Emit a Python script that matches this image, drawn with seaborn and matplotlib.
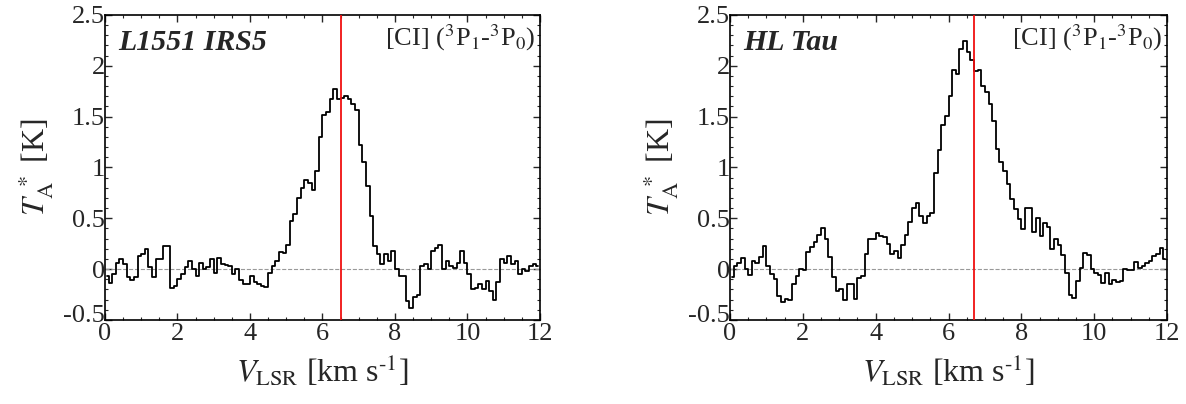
import numpy as np
import pandas as pd
import matplotlib
matplotlib.use('Agg')
import matplotlib.pyplot as plt
import seaborn as sns
from matplotlib.ticker import MultipleLocator
from matplotlib.transforms import ScaledTranslation

# ── Data ───────────────────────────────────────────────────
# channel centres, 0.1 km/s channels from 0 to 12 km/s
velocity = np.arange(120) * 0.1 + 0.05

l1551_tmb = [
    -0.07, -0.14, -0.05, 0.06, 0.10, 0.05, -0.08, -0.11, -0.08, 0.13,
    0.15, 0.20, 0.02, -0.08, 0.10, 0.10, 0.23, 0.23, -0.19, -0.17,
    -0.10, -0.05, 0.02, 0.08, 0.00, -0.07, 0.06, 0.00, 0.02, 0.10,
    -0.04, 0.11, 0.05, 0.04, 0.03, -0.05, 0.00, -0.11, -0.15, -0.15,
    -0.07, -0.13, -0.15, -0.17, -0.18, -0.04, 0.03, 0.08, 0.17, 0.16,
    0.24, 0.47, 0.54, 0.70, 0.80, 0.88, 0.85, 0.78, 0.97, 1.30,
    1.52, 1.55, 1.67, 1.77, 1.67, 1.68, 1.70, 1.67, 1.62, 1.57,
    1.22, 1.05, 0.82, 0.52, 0.23, 0.15, 0.05, 0.15, 0.08, 0.18,
    0.00, -0.07, -0.07, -0.31, -0.38, -0.27, -0.25, 0.03, 0.05, 0.00,
    0.18, 0.21, 0.24, 0.00, 0.08, 0.03, 0.01, 0.06, 0.18, 0.06,
    -0.05, -0.20, -0.19, -0.15, -0.20, -0.12, -0.22, -0.30, -0.13, 0.10,
    0.06, 0.13, 0.05, 0.08, -0.05, 0.00, -0.02, 0.03, 0.05, 0.03,
]

hltau_tmb = [
    -0.08, 0.03, 0.06, 0.11, 0.00, -0.06, 0.08, 0.06, 0.12, 0.23,
    0.03, -0.05, -0.10, -0.26, -0.32, -0.29, -0.30, -0.15, -0.07, 0.00,
    -0.01, 0.17, 0.22, 0.27, 0.34, 0.40, 0.30, 0.12, -0.08, -0.22,
    -0.20, -0.30, -0.15, -0.15, -0.29, -0.09, -0.07, 0.15, 0.30, 0.30,
    0.36, 0.33, 0.32, 0.25, 0.15, 0.18, 0.11, 0.24, 0.34, 0.46,
    0.60, 0.65, 0.52, 0.45, 0.52, 0.55, 0.95, 1.17, 1.42, 1.51,
    1.70, 1.96, 1.92, 2.17, 2.24, 2.14, 2.06, 1.95, 1.96, 1.80,
    1.74, 1.62, 1.46, 1.18, 1.05, 0.97, 0.84, 0.69, 0.59, 0.49,
    0.39, 0.60, 0.60, 0.37, 0.50, 0.33, 0.45, 0.41, 0.20, 0.30,
    0.24, 0.14, -0.04, -0.25, -0.28, -0.12, 0.01, 0.16, 0.14, 0.00,
    -0.04, -0.06, -0.14, -0.04, -0.15, -0.11, -0.13, -0.12, 0.00, -0.01,
    -0.01, 0.07, 0.01, 0.03, 0.06, 0.08, 0.13, 0.15, 0.21, 0.10,
]

source_names = ['L1551 IRS5', 'HL Tau']
systemic_vel = [6.5, 6.7]
line_label = r'[CI] ($^{3}$P$_{1}$-$^{3}$P$_{0}$)'
x_ticks = [0, 2, 4, 6, 8, 10, 12]
y_ticks = [-0.5, 0, 0.5, 1, 1.5, 2, 2.5]
y_tick_labels = ['-0.5', '0', '0.5', '1', '1.5', '2', '2.5']

# ── Style ──────────────────────────────────────────────────
sns.set_theme(style='ticks')
plt.rcParams['font.family'] = ['Liberation Serif', 'DejaVu Serif']
plt.rcParams['mathtext.fontset'] = 'stix'
plt.rcParams['xtick.direction'] = 'in'
plt.rcParams['ytick.direction'] = 'in'

fig, axes = plt.subplots(1, 2, figsize=(11.86, 4.04), dpi=100)
axes[0].set_position([0.0885, 0.208, 0.3668, 0.755])
axes[1].set_position([0.6155, 0.208, 0.3685, 0.755])

spectra = [l1551_tmb, hltau_tmb]
for ax, name, tmb, vsys in zip(axes, source_names, spectra, systemic_vel):
    df = pd.DataFrame({'v': velocity, 't': tmb})
    ax.axhline(0, color='#999999', lw=0.8, ls='--', zorder=1)
    sns.lineplot(data=df, x='v', y='t', ax=ax, color='black', lw=1.3,
                 drawstyle='steps-mid', zorder=2)
    ax.axvline(vsys, color='#f01010', lw=1.3, zorder=3)

    ax.set_xlim(0, 12)
    ax.set_ylim(-0.5, 2.5)
    ax.set_xticks(x_ticks)
    ax.set_xticklabels([str(t) for t in x_ticks])
    ax.set_yticks(y_ticks)
    ax.set_yticklabels(y_tick_labels)
    ax.xaxis.set_minor_locator(MultipleLocator(0.5))
    ax.yaxis.set_minor_locator(MultipleLocator(0.1))
    ax.tick_params(which='both', top=True, right=True, labelsize=19, pad=0)
    ax.tick_params(axis='x', pad=2)
    ax.tick_params(which='major', length=5, width=1)
    ax.tick_params(which='minor', length=2.5, width=0.8)
    for sp in ax.spines.values():
        sp.set_linewidth(1.2)
        sp.set_color('black')

    # lift the bottom y label a little so it clears the x "0"
    low = ax.get_yticklabels()[0]
    low.set_transform(low.get_transform()
                      + ScaledTranslation(0, 5 / 72, fig.dpi_scale_trans))

    ax.set_xlabel(r'$V_{\rm LSR}$ [km s$^{\text{-1}}$]', fontsize=23, labelpad=6)
    ax.set_ylabel(r'$T_{\rm A}^{\ *}$ [K]', fontsize=23, labelpad=6)

    ax.text(0.03, 0.955, name, transform=ax.transAxes, fontsize=21.5,
            fontweight='bold', fontstyle='italic', va='top', ha='left')
    ax.text(0.99, 0.975, line_label, transform=ax.transAxes, fontsize=19,
            va='top', ha='right')

plt.savefig('out.png', dpi=100)
plt.close()
